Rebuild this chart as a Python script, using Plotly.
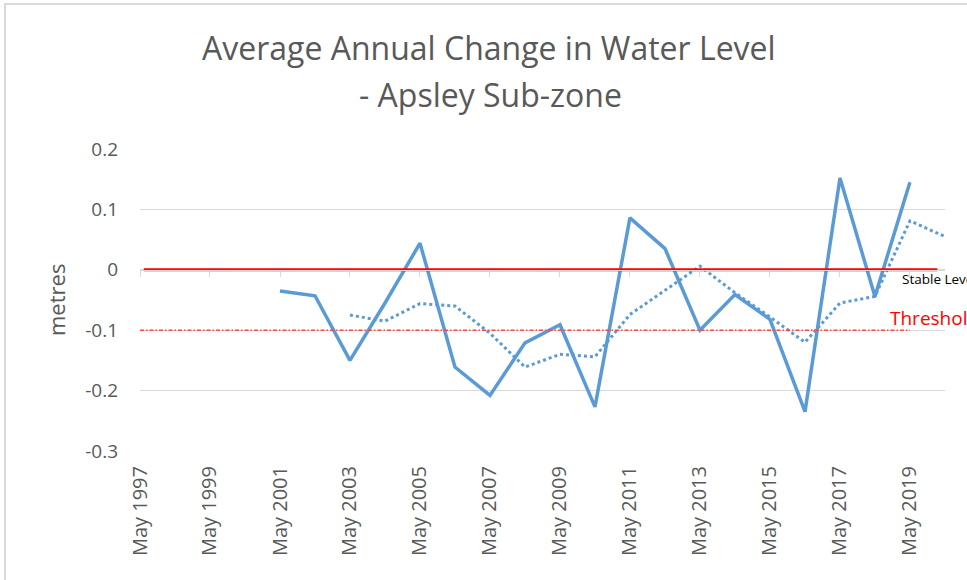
import plotly.graph_objects as go

# ---- data ----
years = list(range(2001, 2020))
annual_change = [-0.035, -0.043, -0.150, -0.055, 0.044, -0.161, -0.208, -0.121, -0.091, -0.227,
                 0.086, 0.035, -0.100, -0.041, -0.082, -0.235, 0.152, -0.044, 0.145]
ma_years = list(range(2003, 2021))
moving_avg = [-0.075, -0.085, -0.056, -0.060, -0.105, -0.161, -0.140, -0.144, -0.074, -0.034,
              0.006, -0.038, -0.078, -0.120, -0.055, -0.044, 0.081, 0.055]
stable_level = 0.0
threshold = -0.1
tick_years = list(range(1997, 2020, 2))
tick_labels = [f"May {y}" for y in tick_years]
y_ticks = [0.2, 0.1, 0.0, -0.1, -0.2, -0.3]
y_tick_labels = ["0.2", "0.1", "0", "-0.1", "-0.2", "-0.3"]

def d(y, m=5, day=1):
    return f"{y}-{m:02d}-{day:02d}"

x_annual = [d(y) for y in years]
x_ma = [d(y) for y in ma_years]
x_ticks = [d(y) for y in tick_years]

W, H = 967, 580
L, R, T, B = 140, 945, 149, 451

def xp(px):
    return (px - L) / (R - L)

def yp(py):
    return (B - py) / (B - T)

grey = "#595959"
blue = "#5B9BD5"

fig = go.Figure()
fig.add_trace(go.Scatter(x=x_annual, y=annual_change, mode="lines",
                         line=dict(color=blue, width=3.5), showlegend=False))
fig.add_trace(go.Scatter(x=x_ma, y=moving_avg, mode="lines",
                         line=dict(color=blue, width=3, dash="dot"), showlegend=False))
fig.add_trace(go.Scatter(x=["1997-06-10", "2020-02-10"], y=[stable_level, stable_level], mode="lines",
                         line=dict(color="#FF0000", width=3), showlegend=False))
fig.add_trace(go.Scatter(x=[d(1997), d(2019)], y=[threshold, threshold], mode="lines",
                         line=dict(color="#FF4444", width=1.5, dash="4px,2px,1.5px,2px"),
                         showlegend=False))
# invisible trace to create the overlaid axis at y=0 (tick marks)
fig.add_trace(go.Scatter(x=[d(1997), d(2020)], y=[0, 0], xaxis="x2", mode="lines",
                         line=dict(width=0), hoverinfo="skip", showlegend=False))

fig.update_layout(
    width=W, height=H,
    margin=dict(l=L, r=W - R, t=T, b=H - B),
    paper_bgcolor="white", plot_bgcolor="white",
    font=dict(family="Open Sans", color=grey),
    xaxis=dict(type="date", range=[d(1997), d(2020)], tickvals=x_ticks, ticktext=tick_labels,
               tickangle=-90, tickfont=dict(size=20, color=grey), showgrid=False,
               zeroline=False, showline=False, ticks="", ticklabelstandoff=10),
    xaxis2=dict(type="date", range=[d(1997), d(2020)], overlaying="x", anchor="free",
                position=yp(269.7), tickvals=x_ticks, showticklabels=False, ticks="outside",
                ticklen=6, tickcolor="#D9D9D9", tickwidth=1, showline=True,
                linecolor="#D9D9D9", linewidth=1, showgrid=False, zeroline=False),
    yaxis=dict(range=[-0.3, 0.2], tickvals=y_ticks, ticktext=y_tick_labels,
               tickfont=dict(size=19, color=grey), showgrid=True, gridcolor="#D9D9D9",
               gridwidth=1, zeroline=False, showline=False, ticks="", ticklabelstandoff=21),
    shapes=[
        dict(type="rect", xref="paper", yref="paper", x0=xp(5), x1=xp(1100), y0=yp(700), y1=yp(4),
             line=dict(color="#D9D9D9", width=2), fillcolor="rgba(0,0,0,0)", layer="below"),
    ],
    annotations=[
        dict(text="Average Annual Change in Water Level", xref="paper", yref="paper",
             x=xp(489), y=yp(48), xanchor="center", yanchor="middle", showarrow=False,
             font=dict(size=32, color=grey)),
        dict(text="- Apsley Sub-zone", xref="paper", yref="paper",
             x=xp(490), y=yp(94), xanchor="center", yanchor="middle", showarrow=False,
             font=dict(size=32, color=grey)),
        dict(text="metres", xref="paper", yref="paper", x=xp(56), y=yp(300),
             xanchor="center", yanchor="middle", textangle=-90, showarrow=False,
             font=dict(size=22, color=grey)),
        dict(text="Stable Level", xref="paper", yref="paper", x=xp(900), y=yp(279),
             xanchor="left", yanchor="middle", showarrow=False,
             font=dict(size=13.5, color="#000000")),
        dict(text="Threshold", xref="paper", yref="paper", x=xp(888), y=yp(318),
             xanchor="left", yanchor="middle", showarrow=False,
             font=dict(size=19, color="#FF0000")),
    ],
)

fig.write_html("out.html", config={"displayModeBar": False},
               post_script="document.body.style.margin='0px';")
